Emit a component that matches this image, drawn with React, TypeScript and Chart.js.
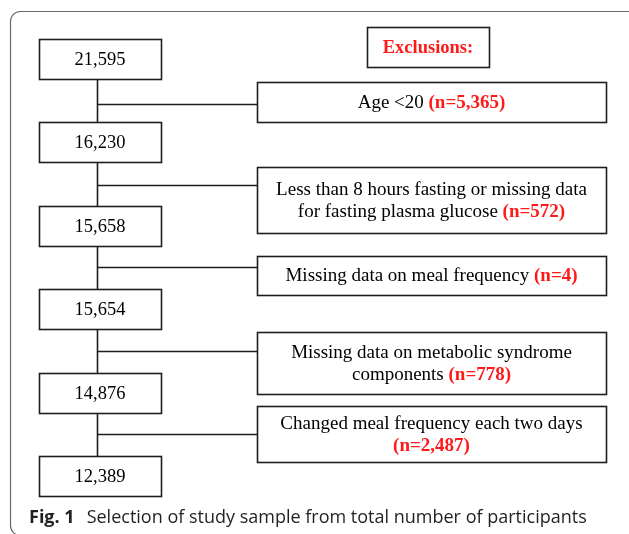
import React, { useEffect, useRef } from "react";
import { Chart, registerables } from "chart.js";

Chart.register(...registerables);

// ---- data ----
const stepCounts = [21595, 16230, 15658, 15654, 14876, 12389];
const exclusionReasons: string[][] = [
  ["Age <20"],
  ["Less than 8 hours fasting or missing data", "for fasting plasma glucose"],
  ["Missing data on meal frequency"],
  ["Missing data on metabolic syndrome", "components"],
  ["Changed meal frequency each two days", ""],
];
const exclusionCounts = [5365, 572, 4, 778, 2487];
const headerLabel = "Exclusions:";
const captionBold = "Fig. 1";
const captionText = "Selection of study sample from total number of participants";

// ---- layout (positions / sizes, not data) ----
const W = 629;
const H = 534;
const Y_MIN = -0.7066;
const Y_MAX = 5.689;
const STEP_X = 100;
const STEP_W = 122;
const STEP_H = 40;
const TRUNK_X = 97;
const EX_X = 431.5;
const EX_W = 349;
const EX_CENTER = [0.52, 1.689, 2.593, 3.641, 4.491];
const EX_H = [40, 66, 39, 62, 56];
const CONNECT_Y = [0.54, 1.505, 2.49, 3.5, 4.49];
const HEADER_X = 428;
const HEADER_Y = -0.144;
const HEADER_W = 122;
const HEADER_H = 40;

const fmt = (n: number) => n.toLocaleString("en-US");

const SERIF = '"Liberation Serif", "Times New Roman", serif';
const LINE = "#1e1e1e";
const RED = "#ff1a1a";
const NUM_FONT = 18.5;
const EX_FONT = 19;

const flowPlugin = {
  id: "flowPlugin",
  afterDatasetsDraw(chart: any) {
    const ctx: CanvasRenderingContext2D = chart.ctx;
    const xs = chart.scales.x;
    const ys = chart.scales.y;
    const steps = chart.getDatasetMeta(0).data;
    const exs = chart.getDatasetMeta(1).data;
    ctx.save();

    // outer frame
    ctx.strokeStyle = "#6a6a6a";
    ctx.lineWidth = 1.2;
    ctx.beginPath();
    (ctx as any).roundRect(10.5, 11.5, 640, 524, 10);
    ctx.stroke();

    ctx.strokeStyle = LINE;
    ctx.lineWidth = 1.6;

    // trunk line
    const tx = Math.round(xs.getPixelForValue(TRUNK_X)) + 0.5;
    ctx.beginPath();
    ctx.moveTo(tx, steps[0].y);
    ctx.lineTo(tx, steps[steps.length - 1].y);
    ctx.stroke();

    // connectors
    CONNECT_Y.forEach((cy) => {
      const py = Math.round(ys.getPixelForValue(cy)) + 0.5;
      ctx.beginPath();
      ctx.moveTo(tx, py);
      ctx.lineTo(xs.getPixelForValue(EX_X - EX_W / 2), py);
      ctx.stroke();
    });

    const box = (cx: number, cy: number, w: number, h: number) => {
      const x0 = Math.round(cx - w / 2) + 0.5;
      const y0 = Math.round(cy - h / 2) + 0.5;
      ctx.fillStyle = "#fff";
      ctx.fillRect(x0, y0, w, h);
      ctx.strokeRect(x0, y0, w, h);
    };

    ctx.textBaseline = "middle";
    ctx.textAlign = "left";

    // step boxes
    steps.forEach((el: any, i: number) => {
      const w = xs.getPixelForValue(STEP_W) - xs.getPixelForValue(0);
      box(el.x, el.y, w, STEP_H);
      ctx.fillStyle = "#000";
      ctx.font = `${NUM_FONT}px ${SERIF}`;
      const t = fmt(stepCounts[i]);
      const tw = ctx.measureText(t).width;
      ctx.fillText(t, el.x - tw / 2, el.y + 1);
    });

    // exclusion boxes
    exs.forEach((el: any, i: number) => {
      const w = xs.getPixelForValue(EX_W) - xs.getPixelForValue(0);
      box(el.x, el.y, w, EX_H[i]);
      const lines = exclusionReasons[i];
      const lh = 22;
      const top = el.y - ((lines.length - 1) * lh) / 2;
      lines.forEach((ln, j) => {
        const last = j === lines.length - 1;
        const red = last ? `(n=${fmt(exclusionCounts[i])})` : "";
        ctx.font = `${EX_FONT}px ${SERIF}`;
        const blackPart = last && ln ? ln + " " : ln;
        const bw = ctx.measureText(blackPart).width;
        ctx.font = `bold ${EX_FONT}px ${SERIF}`;
        const rw = red ? ctx.measureText(red).width : 0;
        let x = el.x - (bw + rw) / 2;
        const y = top + j * lh + 1;
        ctx.font = `${EX_FONT}px ${SERIF}`;
        ctx.fillStyle = "#000";
        ctx.fillText(blackPart, x, y);
        x += bw;
        if (red) {
          ctx.font = `bold ${EX_FONT}px ${SERIF}`;
          ctx.fillStyle = RED;
          ctx.fillText(red, x, y);
        }
      });
    });

    // header box
    const hx = xs.getPixelForValue(HEADER_X);
    const hy = ys.getPixelForValue(HEADER_Y);
    box(hx, hy, HEADER_W, HEADER_H);
    ctx.font = `bold 18.5px ${SERIF}`;
    ctx.fillStyle = RED;
    const hw = ctx.measureText(headerLabel).width;
    ctx.fillText(headerLabel, hx - hw / 2, hy + 1);

    // caption
    ctx.textBaseline = "alphabetic";
    ctx.fillStyle = "#231f20";
    ctx.font = `bold 18px "Open Sans", sans-serif`;
    ctx.fillText(captionBold, 29, 523);
    const fw = ctx.measureText(captionBold).width;
    ctx.font = `18px "Open Sans", sans-serif`;
    ctx.fillText(captionText, 29 + fw + 12, 523);

    ctx.restore();
  },
};

export default function App() {
  const ref = useRef<HTMLCanvasElement>(null);
  useEffect(() => {
    document.body.style.margin = "0";
    const canvas = ref.current!;
    const chart = new Chart(canvas, {
      type: "scatter",
      data: {
        datasets: [
          {
            label: "Participants",
            data: stepCounts.map((_, i) => ({ x: STEP_X, y: i })),
            pointRadius: 0,
          },
          {
            label: "Exclusions",
            data: exclusionCounts.map((_, i) => ({ x: EX_X, y: EX_CENTER[i] })),
            pointRadius: 0,
          },
        ],
      },
      options: {
        responsive: false,
        animation: false,
        layout: { padding: 0 },
        scales: {
          x: { type: "linear", min: 0, max: W, display: false },
          y: { type: "linear", min: Y_MIN, max: Y_MAX, reverse: true, display: false },
        },
        plugins: { legend: { display: false }, tooltip: { enabled: false } },
      },
      plugins: [flowPlugin],
    });
    const fonts: any = (document as any).fonts;
    if (fonts && fonts.load) {
      Promise.all([
        fonts.load(`18px "Liberation Serif"`),
        fonts.load(`bold 18px "Liberation Serif"`),
        fonts.load(`18px "Open Sans"`),
        fonts.load(`bold 18px "Open Sans"`),
      ]).then(() => chart.draw());
    }
    return () => chart.destroy();
  }, []);
  return (
    <div style={{ position: "fixed", left: 0, top: 0, width: W, height: H }}>
      <canvas ref={ref} width={W} height={H} style={{ width: W, height: H, display: "block" }} />
    </div>
  );
}
